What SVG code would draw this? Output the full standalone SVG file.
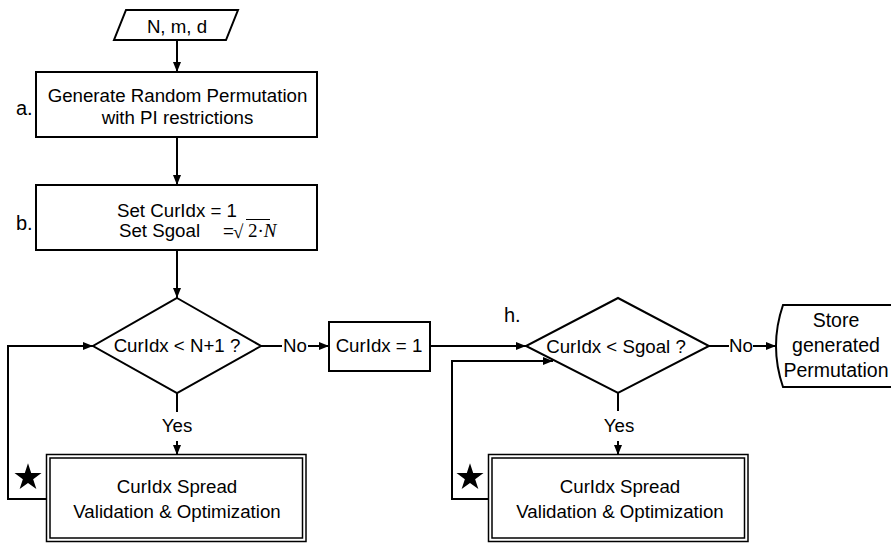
<svg xmlns="http://www.w3.org/2000/svg" width="891" height="543" viewBox="0 0 891 543">
  <defs>
    <marker id="arrow" viewBox="0 0 10 8" refX="10" refY="4" markerWidth="10" markerHeight="8" markerUnits="userSpaceOnUse" orient="auto">
      <path d="M0,0 L10,4 L0,8 Z" fill="#000"/>
    </marker>
    <polygon id="star" points="0,-14.2 3.19,-4.39 13.5,-4.39 5.16,1.68 8.35,11.49 0,5.43 -8.35,11.49 -5.16,1.68 -13.5,-4.39 -3.19,-4.39" fill="#000"/>
  </defs>
  <style>
    .shape { fill: #fff; stroke: #000; stroke-width: 2; }
    .thin { fill: none; stroke: #000; stroke-width: 1.5; }
    .line { fill: none; stroke: #000; stroke-width: 2; }
    .arr { marker-end: url(#arrow); }
    text { font-family: "Liberation Sans", Arial, sans-serif; font-size: 18.7px; fill: #000; }
    .mid { text-anchor: middle; }
    .math { font-family: "Liberation Serif", "Times New Roman", serif; font-size: 19px; }
    .store { font-size: 19.5px; }
    .step { font-size: 20px; }
  </style>
  <rect width="891" height="543" fill="#fff"/>

  <!-- connectors -->
  <g id="connectors">
    <path class="line arr" d="M177,40 V72"/>
    <path class="line arr" d="M177,137 V185"/>
    <path class="line arr" d="M177,250 V298"/>
    <!-- loop 1 -->
    <path class="line" d="M177,393 V412"/>
    <path class="line arr" d="M177,441 V455"/>
    <path class="line arr" d="M47,499 H8 V346 H93"/>
    <path class="line" d="M261,346 H282"/>
    <path class="line arr" d="M308,346 H329"/>
    <path class="line arr" d="M430,346 H526"/>
    <!-- loop 2 -->
    <path class="line" d="M618,393 V411"/>
    <path class="line arr" d="M618,441 V455"/>
    <path class="line arr" d="M489,499 H452 V361 H553"/>
    <path class="line" d="M709,346 H729"/>
    <path class="line arr" d="M753,346 H776"/>
  </g>

  <!-- edge labels -->
  <g id="edge-labels">
    <text class="mid" x="295" y="352">No</text>
    <text class="mid" x="177" y="432">Yes</text>
    <text class="mid" x="741" y="352">No</text>
    <text class="mid" x="619" y="432">Yes</text>
  </g>

  <g id="input">
    <polygon class="shape" points="126,10 238,10 226,40 114,40"/>
    <text class="mid" x="177" y="33">N, m, d</text>
  </g>

  <g id="step-a">
    <rect class="shape" x="36" y="72" width="281" height="65"/>
    <text class="mid" x="177.5" y="102">Generate Random Permutation</text>
    <text class="mid" x="177.5" y="124">with PI restrictions</text>
    <text class="step" x="16" y="115">a.</text>
  </g>

  <g id="step-b">
    <rect class="shape" x="36" y="185" width="281" height="65"/>
    <text x="117" y="217">Set CurIdx = 1</text>
    <text x="119" y="237">Set Sgoal</text>
    <text x="223" y="237">=</text>
    <text class="math" x="233" y="238" font-size="26">√</text>
    <line x1="246" y1="219.5" x2="270" y2="219.5" stroke="#000" stroke-width="1"/>
    <text class="math" x="248" y="237">2·<tspan font-style="italic">N</tspan></text>
    <text class="step" x="16" y="230">b.</text>
  </g>

  <g id="check-idx">
    <polygon class="shape" points="177,298 261,346 177,393 93,346"/>
    <text class="mid" x="177" y="352">CurIdx &lt; N+1 ?</text>
  </g>

  <g id="spread-1">
    <rect class="thin" x="46.5" y="454.5" width="259.5" height="87"/>
    <rect class="thin" x="50" y="458" width="252.5" height="80"/>
    <text class="mid" x="177" y="493">CurIdx Spread</text>
    <text class="mid" x="177" y="518">Validation &amp; Optimization</text>
    <use href="#star" x="28" y="477.5"/>
  </g>

  <g id="reset-idx">
    <rect class="shape" x="329" y="322" width="101" height="49"/>
    <text class="mid" x="379" y="352">CurIdx = 1</text>
  </g>

  <g id="check-goal">
    <polygon class="shape" points="618,298 709,346 618,393 526,346"/>
    <text class="mid" x="616" y="353">CurIdx &lt; Sgoal ?</text>
    <text class="step" x="504" y="322">h.</text>
  </g>

  <g id="spread-2">
    <rect class="thin" x="488.5" y="454.5" width="259.5" height="87"/>
    <rect class="thin" x="492" y="458" width="252.5" height="80"/>
    <text class="mid" x="620" y="493">CurIdx Spread</text>
    <text class="mid" x="620" y="518">Validation &amp; Optimization</text>
    <use href="#star" x="470" y="477.5"/>
  </g>

  <g id="store">
    <path class="shape" d="M895,305 H783 Q769,346 783,387 H895"/>
    <text class="mid store" x="836" y="327">Store</text>
    <text class="mid store" x="836" y="352">generated</text>
    <text class="mid store" x="836" y="377">Permutation</text>
  </g>
</svg>
